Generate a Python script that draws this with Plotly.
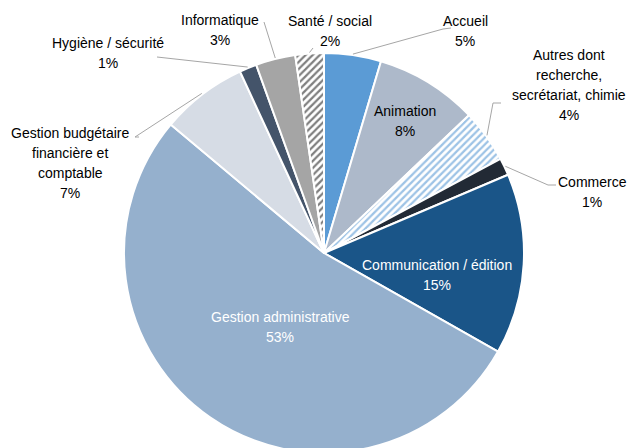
import math
import plotly.graph_objects as go

# ---- data ----
categories = ["Accueil", "Animation", "Autres dont recherche, secrétariat, chimie", "Commerce",
              "Communication / édition", "Gestion administrative",
              "Gestion budgétaire financière et comptable", "Hygiène / sécurité",
              "Informatique", "Santé / social"]
values = [4.6, 8.3, 4.3, 1.4, 14.6, 52.9, 7.0, 1.4, 3.2, 2.3]

# label text lines (as displayed)
label_lines = [
    ["Accueil"], ["Animation"], ["Autres dont", "recherche,", "secrétariat, chimie"], ["Commerce"],
    ["Communication / édition"], ["Gestion administrative"],
    ["Gestion budgétaire", "financière et", "comptable"], ["Hygiène / sécurité"],
    ["Informatique"], ["Santé / social"],
]

# ---- styling ----
colors = ["#5B9BD5", "#ADB9CA", "#9DC3E6", "#222A35", "#1A5588", "#95B0CD",
          "#D6DCE5", "#44546A", "#A5A5A5", "#7F7F7F"]
patterns = ["", "", "/", "", "", "", "", "", "", "/"]
text_colors = ["#000", "#000", "#000", "#000", "#fff", "#fff", "#000", "#000", "#000", "#000"]

W, H = 629, 453          # figure is 5px taller than the window: the pie is cut at the bottom
CX, CY = 324, 253
R = 200

# label layout: (center x px, first line y px), leader line start points (px) or None
label_pos = [
    (465, 21), (405, 111), (569, 55), (592, 182), (437, 265), (280, 317),
    (70, 133), (108, 43), (220, 20), (330, 21),
]
leaders = [
    [(451, 28), (443, 29)], None, [(501, 103), (493, 103)], [(556, 185), (548, 185)],
    None, None, [(139, 137), (135, 137)], [(157, 57)], [(264, 22)], [(313, 48)],
]

LINE_H = 20


def px(x):
    return x / W


def py(y):
    return 1 - y / H


fig = go.Figure(go.Pie(
    labels=categories,
    values=values,
    sort=False,
    direction="clockwise",
    rotation=0,
    textinfo="none",
    hoverinfo="label+percent",
    marker=dict(
        colors=colors,
        line=dict(color="white", width=2),
        pattern=dict(shape=patterns, fillmode="replace", bgcolor="white",
                     size=5, solidity=0.45),
    ),
    domain=dict(x=[(CX - R) / W, (CX + R) / W], y=[py(CY + R), py(CY - R)]),
    showlegend=False,
))

total = sum(values)
annotations = []
shapes = []
cum = 0
for i, v in enumerate(values):
    mid = (cum + v / 2) / total * 2 * math.pi
    cum += v
    pct = f"{round(v / total * 100)}%"
    lines = label_lines[i] + [pct]
    lx, ly = label_pos[i]
    for j, t in enumerate(lines):
        annotations.append(dict(
            x=px(lx), y=py(ly + j * LINE_H), xref="paper", yref="paper",
            text=t, showarrow=False, xanchor="center", yanchor="middle",
            font=dict(family="Liberation Sans, Arial, sans-serif", size=14,
                      color=text_colors[i]),
        ))
    if leaders[i]:
        ex = CX + (R + 1) * math.sin(mid)
        ey = CY - (R + 1) * math.cos(mid)
        pts = leaders[i] + [(ex, ey)]
        path = "M " + " L ".join(f"{px(a)},{py(b)}" for a, b in pts)
        shapes.append(dict(type="path", xref="paper", yref="paper", path=path,
                           line=dict(color="#A6A6A6", width=1)))

fig.update_layout(
    width=W, height=H,
    margin=dict(l=0, r=0, t=0, b=0),
    paper_bgcolor="white",
    plot_bgcolor="white",
    annotations=annotations,
    shapes=shapes,
)

fig.write_html(
    "out.html",
    config={"displayModeBar": False},
    post_script="document.body.style.margin='0';document.body.style.overflow='hidden';"
                "document.documentElement.style.overflow='hidden';",
)
